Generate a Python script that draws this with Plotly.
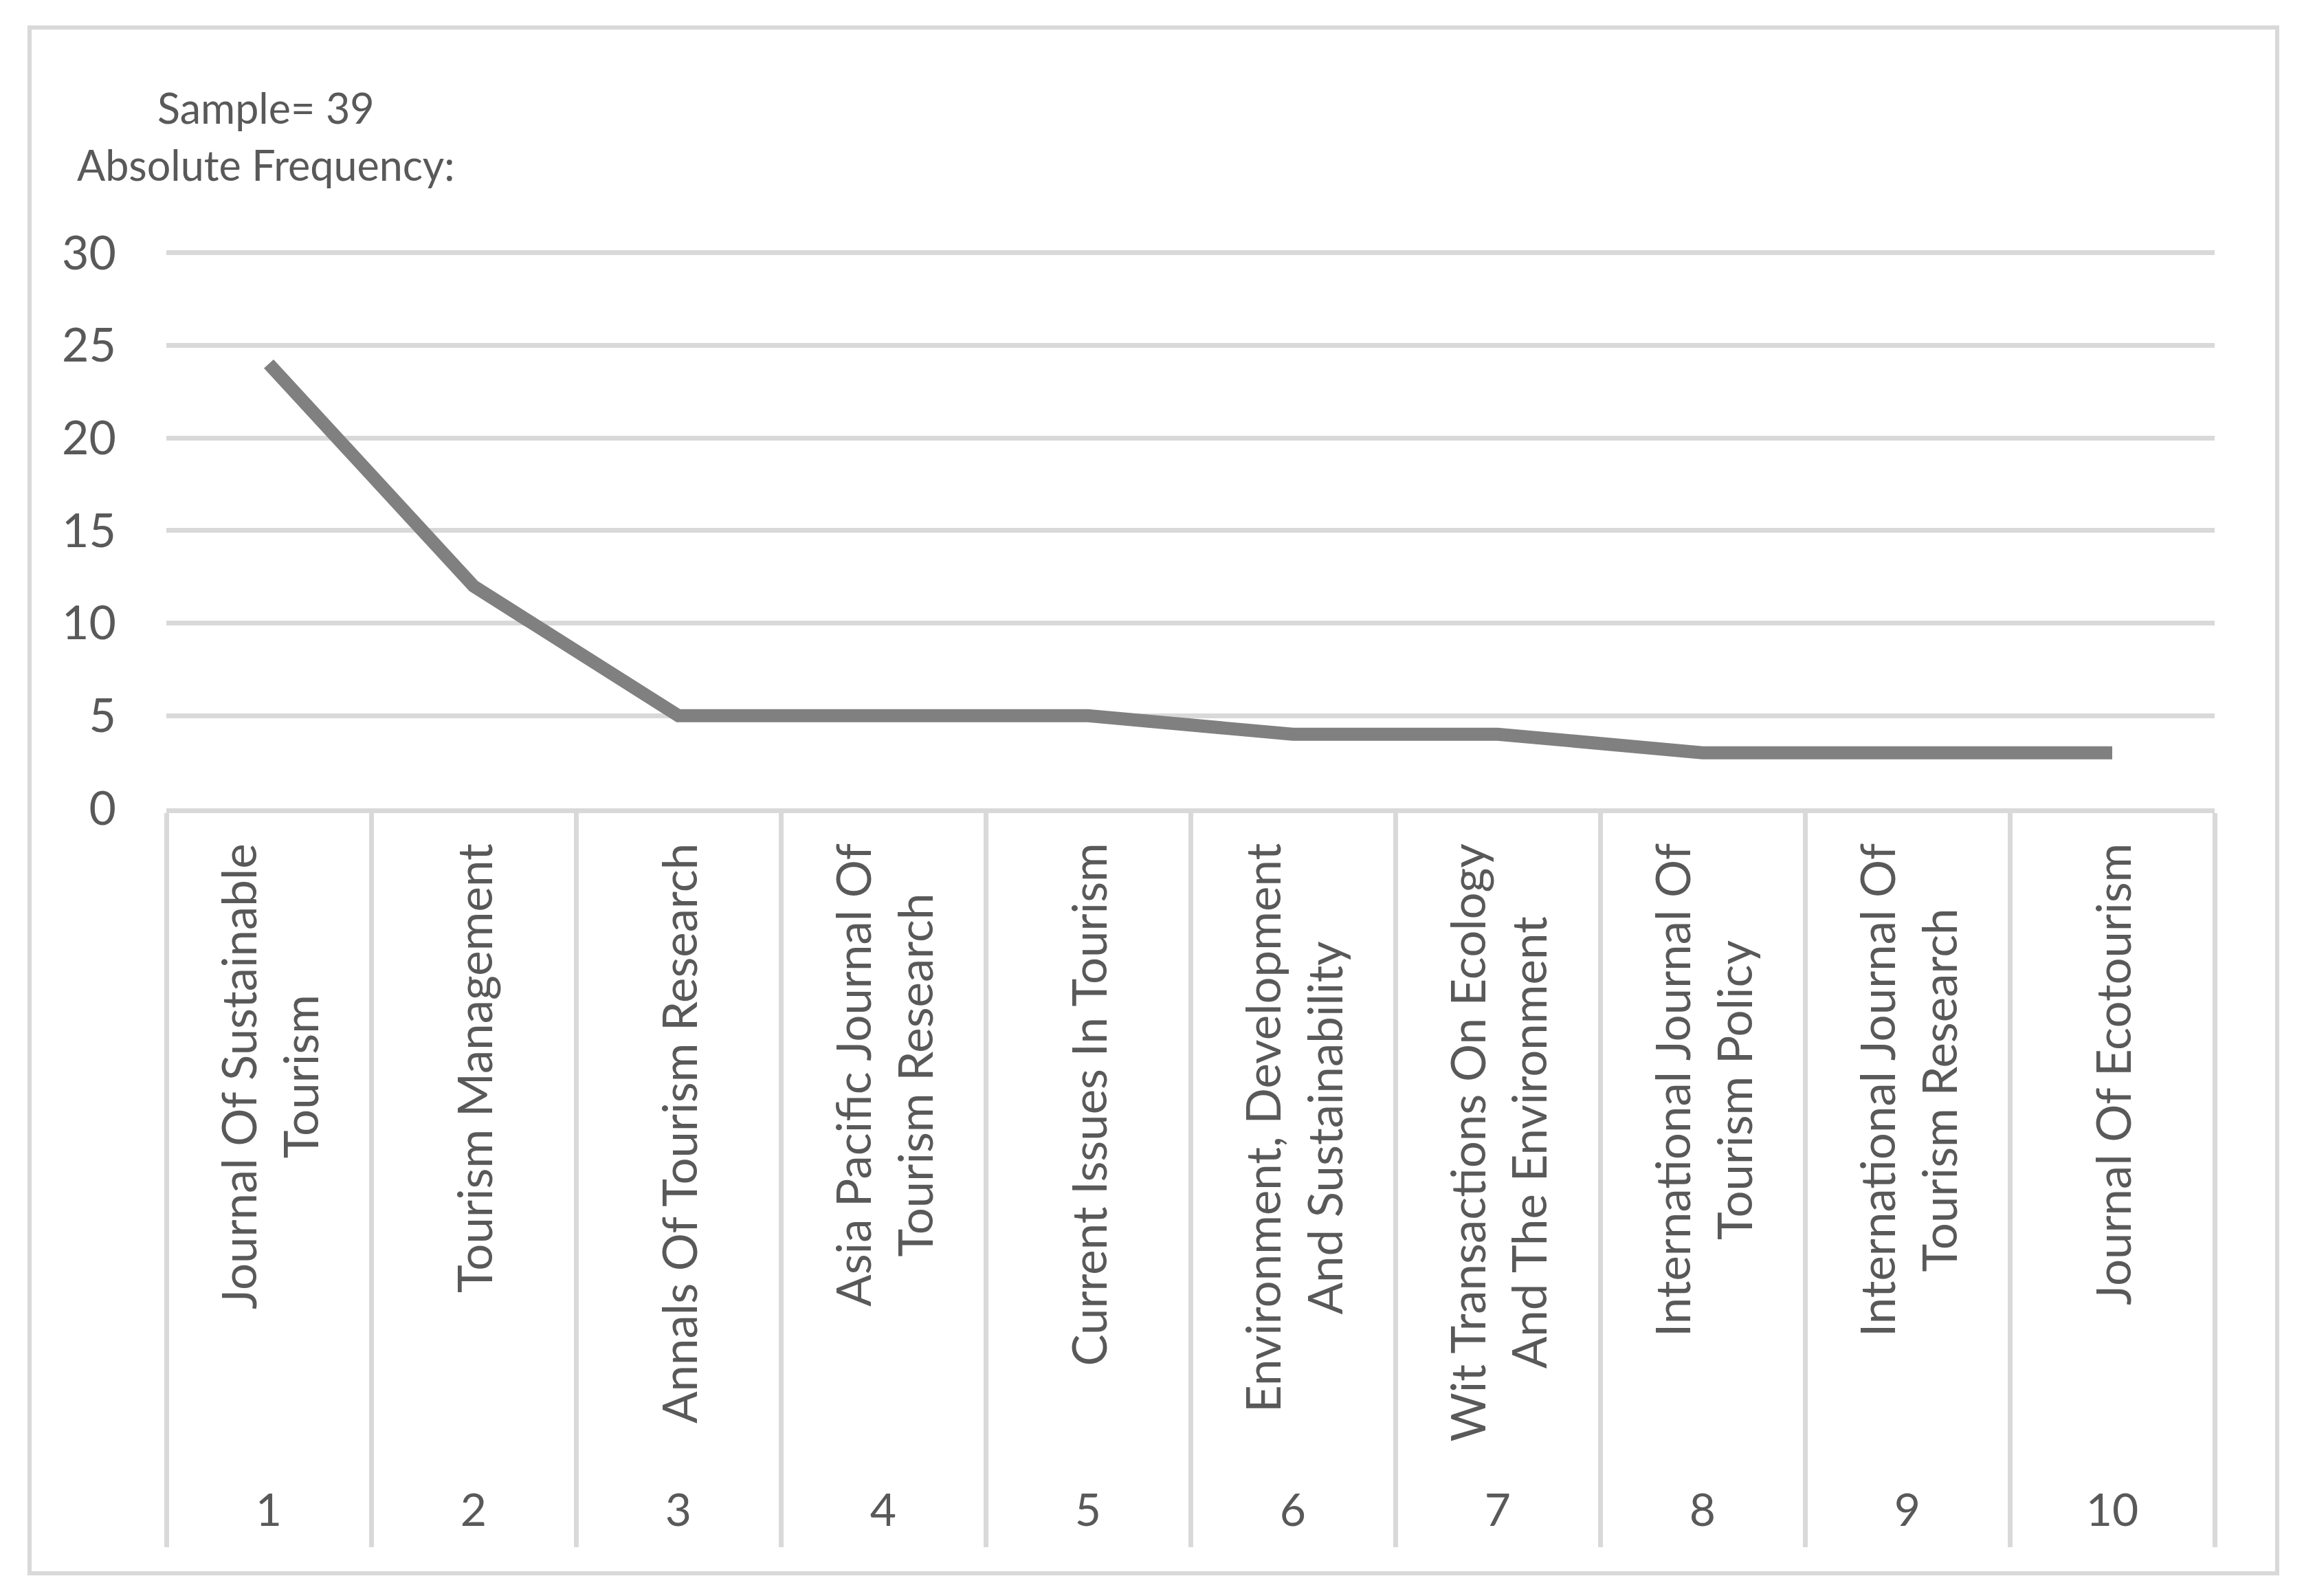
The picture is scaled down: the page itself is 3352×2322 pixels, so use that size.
import plotly.graph_objects as go

# ---- data ----
ranks = ["1", "2", "3", "4", "5", "6", "7", "8", "9", "10"]
journals = [
    "Journal Of Sustainable<br>Tourism",
    "Tourism Management",
    "Annals Of Tourism Research",
    "Asia Pacific Journal Of<br>Tourism Research",
    "Current Issues In Tourism",
    "Environment, Development<br>And Sustainability",
    "Wit Transactions On Ecology<br>And The Environment",
    "International Journal Of<br>Tourism Policy",
    "International Journal Of<br>Tourism Research",
    "Journal Of Ecotourism",
]
frequency = [24, 12, 5, 5, 5, 4, 4, 3, 3, 3]
y_ticks = [0, 5, 10, 15, 20, 25, 30]
header_lines = ["Sample= 39", "Absolute Frequency:"]

# ---- style ----
PAGE_W, PAGE_H = 3352, 2322
OFF = 8  # default body margin of the html page
W, H = PAGE_W - 2 * OFF, PAGE_H - 2 * OFF
Y_MAX = 30.1
# target plot area in page pixels
PLOT_L, PLOT_R, PLOT_TOP30, PLOT_BOT = 242, 3222, 368, 1176
L = PLOT_L - OFF
R = W - (PLOT_R - OFF)
B = H - (PLOT_BOT - OFF)
T = int(round((PLOT_TOP30 - OFF) - (Y_MAX - 30) / 30 * (PLOT_BOT - PLOT_TOP30)))
TXT = "#595959"
GRID = "#d9d9d9"
FONT = "Lato"
plot_w = W - L - R
plot_h = H - T - B


def px_to_paper_x(px):
    return (px - OFF - L) / plot_w


def px_to_paper_y(py):
    return (H - B - (py - OFF)) / plot_h


fig = go.Figure()
fig.add_trace(go.Scatter(
    x=ranks, y=frequency, mode="lines",
    line=dict(color="#808080", width=19),
    hoverinfo="skip", showlegend=False,
))

annotations = []
for idx, name in enumerate(journals):
    annotations.append(dict(
        x=idx, xref="x", y=px_to_paper_y(1225), yref="paper",
        text=name, textangle=-90, showarrow=False,
        xanchor="center", yanchor="top", align="center",
        font=dict(family=FONT, size=69, color=TXT),
    ))

for txt, ypx in zip(header_lines, [156, 239]):
    annotations.append(dict(
        x=px_to_paper_x(387), xref="paper", y=px_to_paper_y(ypx), yref="paper",
        text=txt, showarrow=False, xanchor="center", yanchor="middle",
        font=dict(family=FONT, size=61, color=TXT),
    ))

fig.update_layout(
    width=W, height=H,
    margin=dict(l=L, r=R, t=T, b=B, pad=0),
    paper_bgcolor="white", plot_bgcolor="white",
    showlegend=False, hovermode=False,
    annotations=annotations,
    shapes=[dict(
        type="rect", xref="paper", yref="paper",
        x0=px_to_paper_x(43), x1=px_to_paper_x(3313),
        y0=px_to_paper_y(2289), y1=px_to_paper_y(40),
        line=dict(color=GRID, width=6), fillcolor="rgba(0,0,0,0)", layer="below",
    )],
)

fig.update_xaxes(
    type="category", categoryorder="array", categoryarray=ranks,
    range=[-0.5, len(ranks) - 0.5],
    showgrid=False, zeroline=False,
    showline=True, linecolor=GRID, linewidth=7,
    ticks="outside", tickson="boundaries", ticklen=1068, tickwidth=7, tickcolor=GRID,
    ticklabelstandoff=958,
    tickfont=dict(family=FONT, size=66, color=TXT),
    fixedrange=True,
)
fig.update_yaxes(
    range=[0, Y_MAX], tickvals=y_ticks,
    showgrid=True, gridcolor=GRID, gridwidth=7,
    zeroline=False, showline=False, ticks="",
    ticklabelstandoff=72,
    tickfont=dict(family=FONT, size=68, color=TXT),
    fixedrange=True,
)

fig.write_html("out.html")
